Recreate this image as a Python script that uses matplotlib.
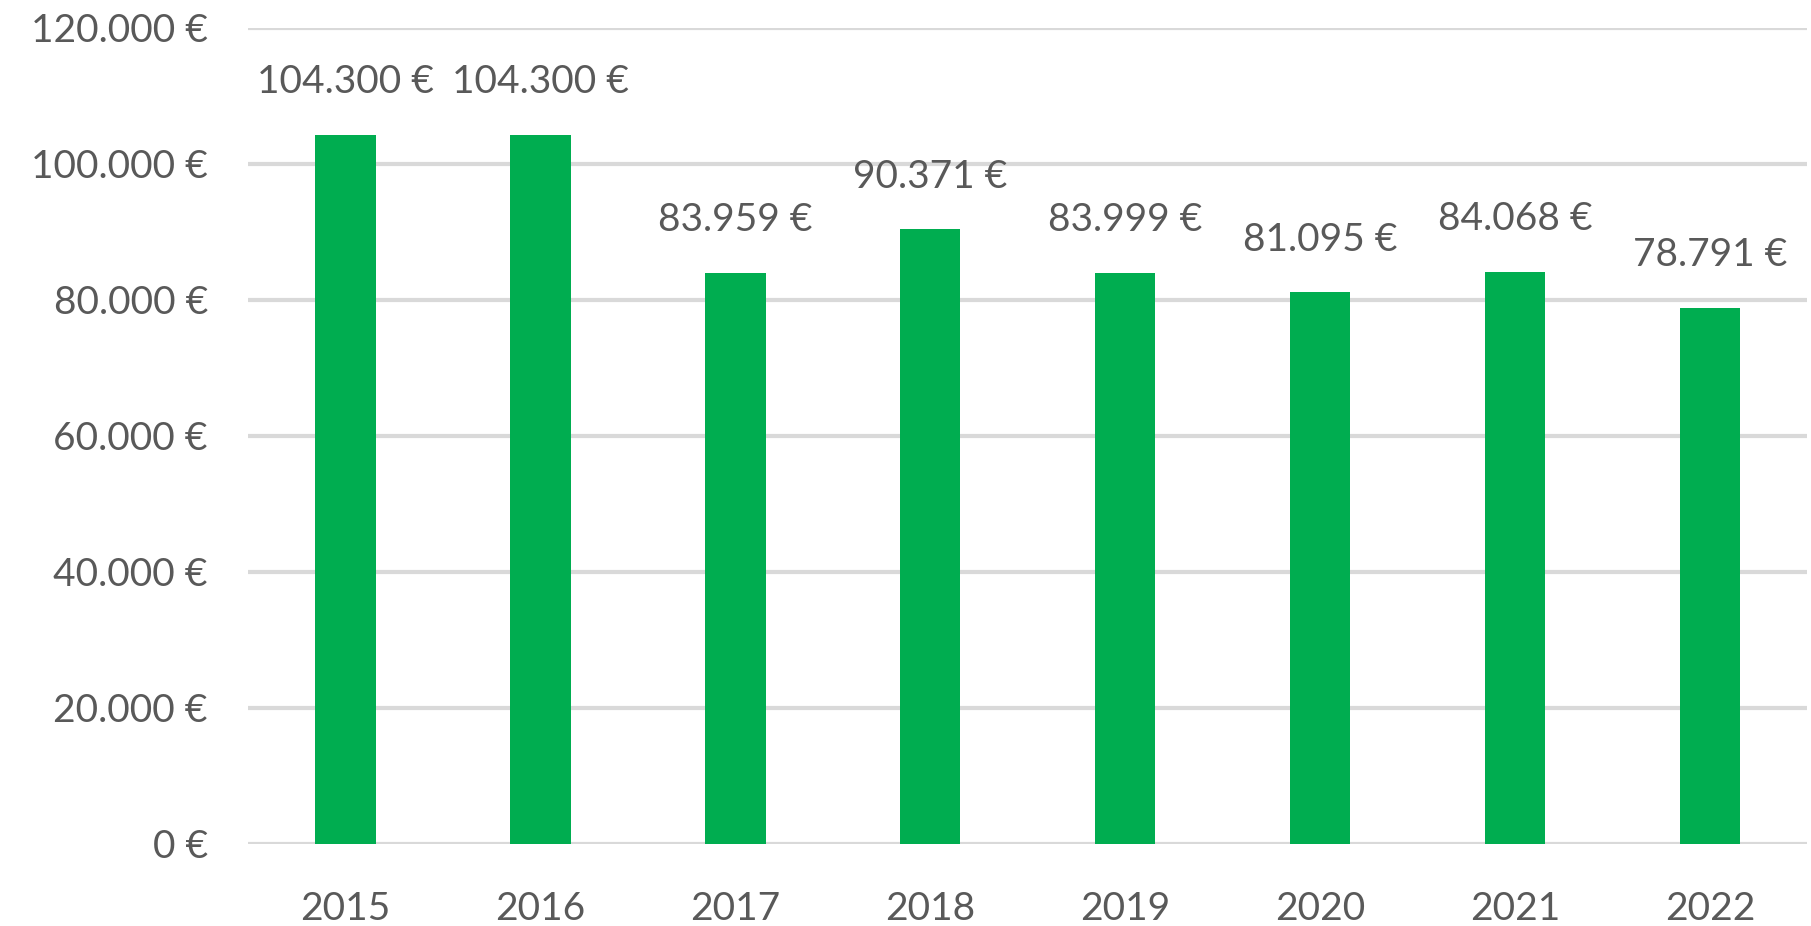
import matplotlib
matplotlib.use('Agg')
import matplotlib.pyplot as plt
from matplotlib.ticker import FuncFormatter

plt.rcParams['font.family'] = ['Lato', 'DejaVu Sans']

years = ['2015', '2016', '2017', '2018', '2019', '2020', '2021', '2022']
values = [104300, 104300, 83959, 90371, 83999, 81095, 84068, 78791]

text_color = '#595959'
bar_color = '#00ad50'
grid_color = '#d9d9d9'


def euro(v, pos=None):
    return f'{int(v):,} €'.replace(',', '.')


fig = plt.figure(figsize=(18.11, 9.26), dpi=100)
ax = fig.add_axes([0.137, 0.0886, 0.861, 0.8814])

x = range(len(years))
bars = ax.bar(x, values, width=0.31, color=bar_color, zorder=3)

ax.set_ylim(0, 120000)
ax.set_xlim(-0.5, len(years) - 0.5)
ax.set_yticks(range(0, 120001, 20000))
ax.yaxis.set_major_formatter(FuncFormatter(euro))
ax.set_xticks(list(x))
ax.set_xticklabels(years)

ax.grid(axis='y', color=grid_color, linewidth=3, zorder=0)
for s in ax.spines.values():
    s.set_visible(False)
ax.tick_params(length=0, labelsize=28, labelcolor=text_color)
ax.tick_params(axis='y', pad=29)
ax.tick_params(axis='x', pad=34)

for i, v in enumerate(values):
    ax.annotate(euro(v), (i, v), xytext=(0, 38), textcoords='offset points',
                ha='center', va='center', fontsize=28, color=text_color)

plt.savefig('out.png', dpi=100)
